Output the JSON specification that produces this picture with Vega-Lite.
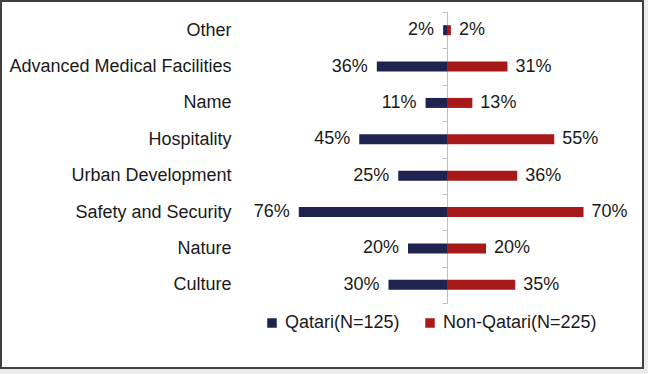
{
  "$schema": "https://vega.github.io/schema/vega-lite/v6.json",
  "width": 642,
  "height": 367,
  "autosize": {"type": "none"},
  "padding": {"left": 1, "top": 1, "right": 5, "bottom": 6},
  "background": "#ececec",
  "config": {
    "view": {"fill": "white", "stroke": "#404040", "strokeWidth": 2},
    "font": "Liberation Sans"
  },
  "data": {
    "values": [
      {"category": "Other", "group": "Qatari(N=125)", "value": -2, "label": "2%"},
      {"category": "Other", "group": "Non-Qatari(N=225)", "value": 2, "label": "2%"},
      {"category": "Advanced Medical Facilities", "group": "Qatari(N=125)", "value": -36, "label": "36%"},
      {"category": "Advanced Medical Facilities", "group": "Non-Qatari(N=225)", "value": 31, "label": "31%"},
      {"category": "Name", "group": "Qatari(N=125)", "value": -11, "label": "11%"},
      {"category": "Name", "group": "Non-Qatari(N=225)", "value": 13, "label": "13%"},
      {"category": "Hospitality", "group": "Qatari(N=125)", "value": -45, "label": "45%"},
      {"category": "Hospitality", "group": "Non-Qatari(N=225)", "value": 55, "label": "55%"},
      {"category": "Urban Development", "group": "Qatari(N=125)", "value": -25, "label": "25%"},
      {"category": "Urban Development", "group": "Non-Qatari(N=225)", "value": 36, "label": "36%"},
      {"category": "Safety and Security", "group": "Qatari(N=125)", "value": -76, "label": "76%"},
      {"category": "Safety and Security", "group": "Non-Qatari(N=225)", "value": 70, "label": "70%"},
      {"category": "Nature", "group": "Qatari(N=125)", "value": -20, "label": "20%"},
      {"category": "Nature", "group": "Non-Qatari(N=225)", "value": 20, "label": "20%"},
      {"category": "Culture", "group": "Qatari(N=125)", "value": -30, "label": "30%"},
      {"category": "Culture", "group": "Non-Qatari(N=225)", "value": 35, "label": "35%"}
    ]
  },
  "encoding": {
    "y": {
      "field": "category",
      "type": "nominal",
      "sort": ["Other", "Advanced Medical Facilities", "Name", "Hospitality", "Urban Development", "Safety and Security", "Nature", "Culture"],
      "scale": {"range": [11, 302], "paddingInner": 0, "paddingOuter": 0},
      "axis": {
        "title": null,
        "orient": "left",
        "offset": -446,
        "domain": true,
        "domainColor": "#bfbfbf",
        "domainWidth": 1,
        "ticks": true,
        "tickBand": "extent",
        "tickColor": "#bfbfbf",
        "tickSize": 5,
        "labelPadding": 211,
        "labelLimit": 400,
        "labelFontSize": 18,
        "labelColor": "#1a1a1a",
        "labelFont": "Liberation Sans"
      }
    },
    "x": {
      "field": "value",
      "type": "quantitative",
      "scale": {"domain": [-228.7, 100.5], "nice": false, "zero": false},
      "axis": null
    }
  },
  "layer": [
    {
      "mark": {"type": "bar", "size": 10},
      "encoding": {
        "color": {
          "field": "group",
          "type": "nominal",
          "sort": ["Qatari(N=125)", "Non-Qatari(N=225)"],
          "scale": {"domain": ["Qatari(N=125)", "Non-Qatari(N=225)"], "range": ["#1f2350", "#a8191a"]},
          "legend": {
            "title": null,
            "orient": "none",
            "direction": "horizontal",
            "legendX": 262,
            "legendY": 313,
            "symbolType": "square",
            "symbolSize": 90,
            "symbolStrokeWidth": 0,
            "labelFontSize": 18,
            "labelColor": "#1a1a1a",
            "labelFont": "Liberation Sans",
            "columnPadding": 21,
            "labelOffset": 4,
            "labelLimit": 300
          }
        }
      }
    },
    {
      "transform": [{"filter": "datum.value < 0"}],
      "mark": {"type": "text", "align": "right", "baseline": "middle", "dx": -9, "fontSize": 18, "color": "#1a1a1a", "font": "Liberation Sans"},
      "encoding": {"text": {"field": "label"}}
    },
    {
      "transform": [{"filter": "datum.value >= 0"}],
      "mark": {"type": "text", "align": "left", "baseline": "middle", "dx": 8, "fontSize": 18, "color": "#1a1a1a", "font": "Liberation Sans"},
      "encoding": {"text": {"field": "label"}}
    }
  ]
}
